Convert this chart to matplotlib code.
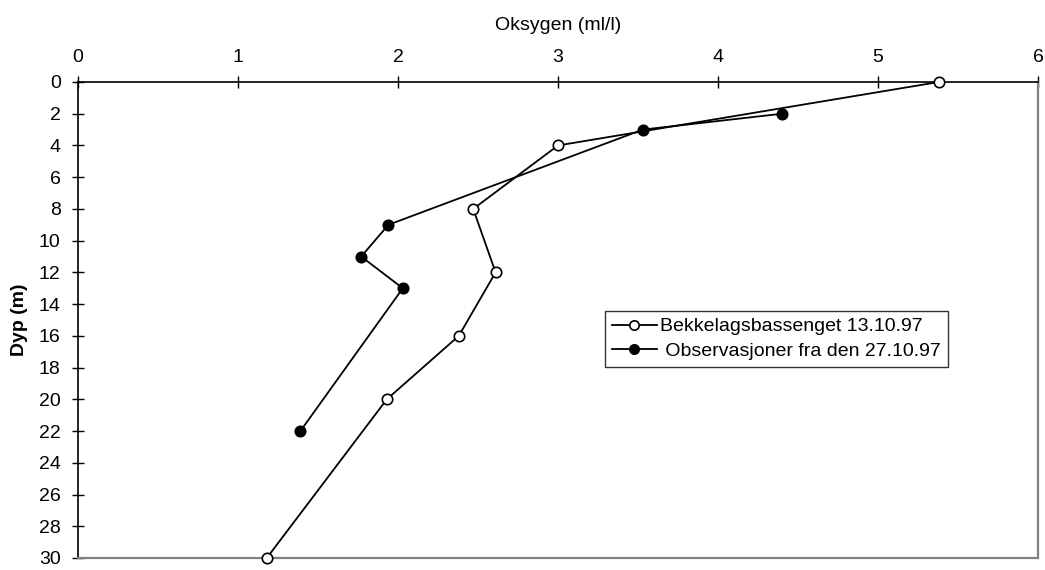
import matplotlib
matplotlib.use("Agg")
import matplotlib.pyplot as plt

plt.rcParams['font.family'] = ['Liberation Sans', 'DejaVu Sans']

depth_open = [0, 4, 8, 12, 16, 20, 30]
oxy_open = [5.38, 3.00, 2.47, 2.61, 2.38, 1.93, 1.18]
label_open = "Bekkelagsbassenget 13.10.97"

depth_filled = [2, 3, 9, 11, 13, 22]
oxy_filled = [4.40, 3.53, 1.94, 1.77, 2.03, 1.39]
label_filled = " Observasjoner fra den 27.10.97"

xticks = [0, 1, 2, 3, 4, 5, 6]
yticks = list(range(0, 31, 2))

fig = plt.figure(figsize=(10.45, 5.7), dpi=100)
ax = fig.add_axes([78/1045, 1-558/570, (1038-78)/1045, (558-82)/570])

ax.plot(oxy_open, depth_open, color='black', lw=1.3, marker='o', ms=7.5,
        mfc='white', mec='black', mew=1.2, label=label_open, clip_on=False, zorder=3)
ax.plot(oxy_filled, depth_filled, color='black', lw=1.3, marker='o', ms=7.5,
        mfc='black', mec='black', mew=1.2, label=label_filled, clip_on=False, zorder=3)

ax.set_xlim(0, 6)
ax.set_ylim(30, 0)
ax.set_xticks(xticks)
ax.set_yticks(yticks)
ax.xaxis.tick_top()
ax.xaxis.set_label_position('top')
ax.tick_params(axis='both', direction='inout', length=9, width=1, labelsize=14, colors='black')
ax.tick_params(axis='x', pad=7)
ax.tick_params(axis='y', pad=8)
ax.set_xlabel("Oksygen (ml/l)", fontsize=14, labelpad=14)
ax.set_ylabel("Dyp (m)", fontsize=14, fontweight='bold', labelpad=8)

for s in ['left', 'top']:
    ax.spines[s].set_color('black')
    ax.spines[s].set_linewidth(1.2)
for s in ['right', 'bottom']:
    ax.spines[s].set_color('#808080')
    ax.spines[s].set_linewidth(1.6)

leg = ax.legend(loc='upper left', bbox_to_anchor=((605-78)/960, 1-(311-82)/476),
                fontsize=14, frameon=True, fancybox=False, edgecolor='black',
                handlelength=2.3, handletextpad=0.2, borderpad=0.35, labelspacing=0.35,
                borderaxespad=0, markerscale=0.9)
leg.get_frame().set_linewidth(1.0)

fig.savefig("out.png", dpi=100)
